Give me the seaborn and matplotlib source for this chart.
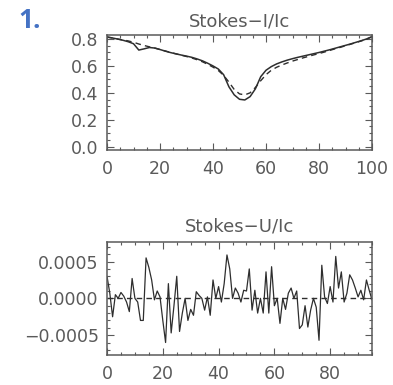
import matplotlib
matplotlib.use("Agg")
import matplotlib.pyplot as plt
import numpy as np
import pandas as pd
import seaborn as sns
from matplotlib.ticker import MultipleLocator, FixedLocator

# ---------------- data ----------------
i_x = list(range(0, 101, 2))
i_obs = [0.815, 0.808, 0.800, 0.791, 0.780, 0.765, 0.718, 0.727, 0.737, 0.733,
         0.722, 0.710, 0.699, 0.690, 0.681, 0.673, 0.664, 0.652, 0.638, 0.620,
         0.600, 0.577, 0.535, 0.445, 0.385, 0.352, 0.347, 0.372, 0.430, 0.520,
         0.568, 0.595, 0.615, 0.630, 0.643, 0.654, 0.664, 0.673, 0.682, 0.691,
         0.700, 0.710, 0.720, 0.731, 0.742, 0.753, 0.764, 0.776, 0.788, 0.801,
         0.818]
i_fit = [0.815, 0.808, 0.800, 0.793, 0.786, 0.776, 0.763, 0.752, 0.742, 0.733,
         0.722, 0.711, 0.700, 0.690, 0.680, 0.670, 0.659, 0.646, 0.631, 0.612,
         0.591, 0.566, 0.530, 0.480, 0.425, 0.392, 0.385, 0.400, 0.440, 0.490,
         0.535, 0.568, 0.590, 0.607, 0.622, 0.636, 0.648, 0.660, 0.671, 0.682,
         0.692, 0.703, 0.715, 0.727, 0.738, 0.750, 0.762, 0.774, 0.786, 0.800,
         0.816]

u_x = list(range(0, 96))
u_obs = [3.0, 0.7, -2.5, 0.5, 0.0, 0.8, 0.3, -0.5, -1.8, 2.7,
         0.0, -0.5, -3.0, -3.0, 5.5, 4.2, 2.5, -0.2, 1.0, 0.2,
         -3.0, -6.0, 2.0, -4.7, -1.0, 3.0, -4.5, -2.0, 0.0, -3.0,
         -1.5, -2.3, 0.9, 0.4, 0.0, -1.6, 0.2, -2.3, 2.5, 0.0,
         1.6, -0.5, 2.0, 5.9, 4.0, 0.0, 1.4, 0.7, -0.5, 1.1,
         1.0, 4.0, -1.6, 1.1, -2.0, 0.0, -2.0, 3.6, -2.0, 4.3,
         -1.0, 0.0, -3.4, 0.0, -1.5, 0.7, 1.4, 0.0, 1.0, -4.1,
         -3.6, -1.0, -3.9, -1.6, 0.0, -1.2, -5.7, 4.5, 0.2, -0.7,
         1.6, -0.5, 5.7, 1.4, 3.6, -0.5, 0.7, 3.2, 2.5, 1.4,
         0.2, 1.1, -0.2, 2.5, 1.1, -0.2]
u_obs = [v * 1e-4 for v in u_obs]
u_fit = [0.0] * len(u_x)

i_yticks = [0.0, 0.2, 0.4, 0.6, 0.8]
i_ylabels = ["0.0", "0.2", "0.4", "0.6", "0.8"]
i_xticks = [0, 20, 40, 60, 80, 100]
u_yticks = [-0.0005, 0.0, 0.0005]
u_ylabels = ["\u22120.0005", "0.0000", "0.0005"]
u_xticks = [0, 20, 40, 60, 80]

# ---------------- style ----------------
sns.set_style("ticks")
plt.rcParams["font.family"] = ["DejaVu Sans"]
GRAY = "#5a5a5a"
LINE = "#2e2e2e"
FS = 12.5

fig = plt.figure(figsize=(3.93, 3.85), dpi=100)
ax1 = fig.add_axes([0.2723, 0.6104, 0.6743, 0.2987])
ax2 = fig.add_axes([0.2723, 0.0779, 0.6743, 0.2943])

df_i = pd.DataFrame({"x": i_x, "obs": i_obs, "fit": i_fit})
df_u = pd.DataFrame({"x": u_x, "obs": u_obs, "fit": u_fit})

sns.lineplot(data=df_i, x="x", y="obs", ax=ax1, color=LINE, lw=1.1)
sns.lineplot(data=df_i, x="x", y="fit", ax=ax1, color=LINE, lw=1.0,
             linestyle=(0, (4, 3)))
sns.lineplot(data=df_u, x="x", y="obs", ax=ax2, color=LINE, lw=0.9)
sns.lineplot(data=df_u, x="x", y="fit", ax=ax2, color=LINE, lw=1.0,
             linestyle=(0, (4, 3)))

def style(ax, xlim, ylim, xt, yt, ylab, xminor, yminor, title, tpad):
    ax.set_xlim(*xlim)
    ax.set_ylim(*ylim)
    ax.set_xticks(xt)
    ax.set_xticklabels([str(t) for t in xt])
    ax.set_yticks(yt)
    ax.set_yticklabels(ylab)
    ax.xaxis.set_minor_locator(MultipleLocator(xminor))
    ax.yaxis.set_minor_locator(MultipleLocator(yminor))
    ax.set_xlabel("")
    ax.set_ylabel("")
    for s in ax.spines.values():
        s.set_color(GRAY)
        s.set_linewidth(1.1)
        s.set_visible(True)
    ax.tick_params(which="both", direction="in", top=True, right=True,
                   color=GRAY, labelcolor=GRAY, labelsize=FS, width=0.8)
    ax.tick_params(which="major", length=5)
    ax.tick_params(which="minor", length=2.5)
    ax.tick_params(axis="x", pad=7)
    ax.tick_params(axis="y", pad=6)
    ax.set_title(title, color=GRAY, fontsize=FS + 0.5, pad=tpad)

style(ax1, (0, 100), (-0.025, 0.83), i_xticks, i_yticks, i_ylabels, 5, 0.05,
      "Stokes\u2212I/Ic", 6)
style(ax2, (0, 95), (-0.00077, 0.00077), u_xticks, u_yticks, u_ylabels, 5,
      0.0001, "Stokes\u2212U/Ic", 7)

fig.text(0.046, 0.948, "1.", color="#4472C4", fontsize=19, fontweight="bold",
         family=["Open Sans", "DejaVu Sans"], ha="left", va="center")

fig.savefig("out.png", dpi=100)
